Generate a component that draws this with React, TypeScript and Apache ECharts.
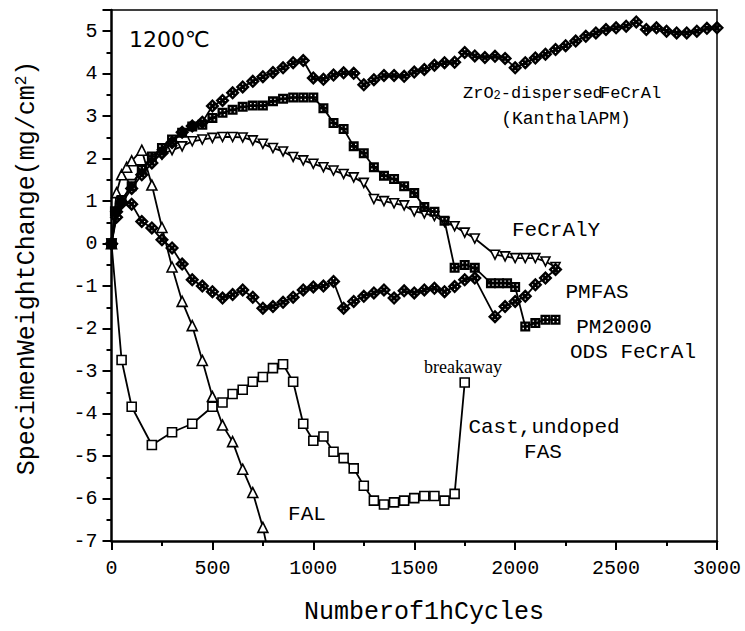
import React, { useEffect, useRef } from "react";
import * as echarts from "echarts";

type P = [number, number];

const xTicks = { min: 0, max: 3000, interval: 500 };
const yTicks = { min: -7, max: 5.5, interval: 1 };

const kanthalAPM: P[] = [
  [0, 0], [25, 0.62], [50, 0.95], [100, 1.3], [150, 1.62], [200, 1.9], [250, 2.13], [300, 2.38], [350, 2.62],
  [400, 2.77], [450, 2.86], [500, 3.24], [550, 3.37], [600, 3.55], [650, 3.69], [700, 3.82], [750, 3.93],
  [800, 4.03], [850, 4.14], [900, 4.26], [950, 4.31], [1000, 3.9], [1050, 3.87], [1100, 3.97], [1150, 4.02],
  [1200, 4.01], [1250, 3.74], [1300, 3.86], [1350, 3.96], [1400, 3.96], [1450, 3.94], [1500, 4.04],
  [1550, 4.1], [1600, 4.2], [1650, 4.26], [1700, 4.27], [1750, 4.5], [1800, 4.42], [1850, 4.38], [1900, 4.41],
  [1950, 4.36], [2000, 4.14], [2050, 4.26], [2100, 4.37], [2150, 4.46], [2200, 4.57], [2250, 4.66],
  [2300, 4.77], [2350, 4.88], [2400, 4.96], [2450, 5.04], [2500, 5.08], [2550, 5.12], [2600, 5.22],
  [2650, 5.04], [2700, 5.08], [2750, 5.0], [2800, 4.96], [2850, 4.96], [2900, 5.0], [2950, 5.07], [3000, 5.08],
];

const pm2000: P[] = [
  [0, 0], [17, 0.76], [50, 1.03], [100, 1.35], [150, 1.74], [200, 2.05], [250, 2.25], [300, 2.45], [350, 2.61],
  [400, 2.76], [450, 2.8], [500, 2.96], [550, 3.08], [600, 3.15], [650, 3.22], [700, 3.25], [750, 3.25],
  [800, 3.35], [850, 3.41], [900, 3.44], [950, 3.44], [1000, 3.44], [1050, 3.19], [1100, 2.84], [1150, 2.7],
  [1200, 2.29], [1250, 2.13], [1300, 1.8], [1350, 1.6], [1400, 1.52], [1450, 1.35], [1500, 1.19], [1550, 0.86],
  [1600, 0.75], [1650, 0.54], [1700, -0.57], [1750, -0.5], [1800, -0.57], [1880, -0.93], [1920, -0.93],
  [1960, -0.93], [2000, -1.02], [2050, -1.95], [2100, -1.87], [2150, -1.79], [2200, -1.79],
];

const fecraly: P[] = [
  [0, 0], [25, 0.7], [50, 1.0], [100, 1.4], [150, 1.75], [200, 1.98], [250, 2.1], [300, 2.2], [350, 2.29],
  [400, 2.41], [450, 2.45], [500, 2.49], [550, 2.51], [600, 2.51], [650, 2.5], [700, 2.43], [750, 2.35],
  [800, 2.25], [850, 2.17], [900, 2.04], [950, 1.96], [1000, 1.88], [1050, 1.8], [1100, 1.72], [1150, 1.64],
  [1200, 1.56], [1250, 1.43], [1300, 1.05], [1350, 1.0], [1400, 0.95], [1450, 0.9], [1500, 0.76], [1550, 0.71],
  [1600, 0.65], [1650, 0.51], [1700, 0.41], [1750, 0.26], [1800, 0.12], [1900, -0.26], [1950, -0.3],
  [2000, -0.34], [2050, -0.34], [2100, -0.34], [2150, -0.42], [2200, -0.55],
];

const pmfas: P[] = [
  [0, 0], [25, 0.75], [50, 0.98], [100, 0.93], [150, 0.52], [200, 0.37], [250, 0.09], [300, -0.1], [350, -0.48],
  [400, -0.85], [450, -1.0], [500, -1.13], [550, -1.28], [600, -1.2], [650, -1.09], [700, -1.26], [750, -1.52],
  [800, -1.48], [850, -1.38], [900, -1.26], [950, -1.09], [1000, -1.02], [1050, -1.0], [1100, -0.89],
  [1150, -1.52], [1200, -1.36], [1250, -1.24], [1300, -1.16], [1350, -1.09], [1400, -1.28], [1450, -1.11],
  [1500, -1.16], [1550, -1.09], [1600, -1.05], [1650, -1.13], [1700, -1.01], [1750, -0.85], [1800, -0.81],
  [1900, -1.72], [1950, -1.48], [2000, -1.36], [2050, -1.24], [2100, -0.97], [2150, -0.81], [2200, -0.61],
];

const castFAS: P[] = [
  [0, 0], [50, -2.74], [100, -3.84], [200, -4.74], [300, -4.44], [400, -4.24], [500, -3.84], [550, -3.74],
  [600, -3.54], [650, -3.44], [700, -3.25], [750, -3.14], [800, -2.93], [850, -2.84], [900, -3.25],
  [950, -4.24], [1000, -4.64], [1050, -4.54], [1100, -4.9], [1150, -5.05], [1200, -5.29], [1250, -5.7],
  [1300, -6.05], [1350, -6.14], [1400, -6.09], [1450, -6.05], [1500, -5.99], [1550, -5.94], [1600, -5.94],
  [1650, -6.05], [1700, -5.89], [1750, -3.27],
];

const fal: P[] = [
  [0, 0], [25, 1.2], [50, 1.62], [75, 1.8], [100, 1.95], [150, 2.2], [200, 1.38], [250, 0.38], [300, -0.55],
  [350, -1.36], [400, -1.93], [450, -2.75], [500, -3.6], [550, -4.27], [600, -4.66], [650, -5.31],
  [700, -5.86], [750, -6.68], [800, -7.8],
];

const MONO = "'Liberation Mono', 'Courier New', monospace";

const DIAMOND =
  "path://M0,-6L6,0L0,6L-6,0Z" +
  "M-0.5,-2.9L-0.5,-1.9L0.5,-1.9L0.5,-2.9Z" +
  "M1.9,-0.5L1.9,0.5L2.9,0.5L2.9,-0.5Z" +
  "M-0.5,1.9L-0.5,2.9L0.5,2.9L0.5,1.9Z" +
  "M-2.9,-0.5L-2.9,0.5L-1.9,0.5L-1.9,-0.5Z";

const BOXCROSS =
  "path://M-5,-5L5,-5L5,5L-5,5Z" +
  "M-2.7,-2.7L-2.7,-1.3L-1.3,-1.3L-1.3,-2.7Z" +
  "M1.3,-2.7L1.3,-1.3L2.7,-1.3L2.7,-2.7Z" +
  "M-2.7,1.3L-2.7,2.7L-1.3,2.7L-1.3,1.3Z" +
  "M1.3,1.3L1.3,2.7L2.7,2.7L2.7,1.3Z";

function mkSeries(name: string, data: P[], symbol: string, size: number, filled: boolean, rotate = 0) {
  return {
    name,
    type: "line",
    data,
    symbol,
    symbolSize: size,
    symbolRotate: rotate,
    symbolKeepAspect: true,
    showAllSymbol: true,
    clip: true,
    lineStyle: { color: "#000", width: 1.8 },
    itemStyle: filled
      ? { color: "#000", borderWidth: 0 }
      : { color: "#fff", borderColor: "#000", borderWidth: 1.6 },
    emphasis: { disabled: true },
  };
}

function txt(text: string, x: number, y: number, size: number, align = "left", family = MONO, extra: any = {}) {
  return {
    type: "text",
    x,
    y,
    z: 100,
    silent: true,
    style: { text, fontSize: size, fontFamily: family, fill: "#000", align, verticalAlign: "middle", ...extra },
  };
}

export default function App() {
  const ref = useRef<HTMLDivElement>(null);
  useEffect(() => {
    if (!ref.current) return;
    const chart = echarts.init(ref.current, undefined, { renderer: "svg" });
    const axisLine = { show: true, onZero: false, lineStyle: { color: "#000", width: 2.5 } };
    chart.setOption({
      animation: false,
      backgroundColor: "#fff",
      grid: { left: 111.5, right: 28, top: 10, bottom: 90, containLabel: false },
      xAxis: [
        {
          type: "value",
          ...xTicks,
          axisLine,
          axisTick: { show: true, inside: false, length: 9, lineStyle: { color: "#000", width: 2 } },
          minorTick: { show: true, splitNumber: 2, length: 5, lineStyle: { color: "#000", width: 2 } },
          axisLabel: { color: "#000", fontFamily: MONO, fontSize: 20, margin: 17, formatter: (v: number) => String(v) },
          splitLine: { show: false },
        },
        {
          type: "value",
          position: "top",
          ...xTicks,
          axisLine: { show: true, onZero: false, lineStyle: { color: "#000", width: 1.5 } },
          axisTick: { show: false },
          axisLabel: { show: false },
          splitLine: { show: false },
        },
      ],
      yAxis: [
        {
          type: "value",
          ...yTicks,
          axisLine,
          axisTick: { show: true, inside: false, length: 9, lineStyle: { color: "#000", width: 2 } },
          minorTick: { show: true, splitNumber: 2, length: 5, lineStyle: { color: "#000", width: 2 } },
          axisLabel: {
            color: "#000",
            fontFamily: MONO,
            fontSize: 20,
            margin: 14,
            formatter: (v: number) => (Number.isInteger(v) ? String(v) : ""),
          },
          splitLine: { show: false },
        },
        {
          type: "value",
          position: "right",
          ...yTicks,
          axisLine: { show: true, onZero: false, lineStyle: { color: "#000", width: 1.5 } },
          axisTick: { show: false },
          axisLabel: { show: false },
          splitLine: { show: false },
        },
      ],
      series: [
        mkSeries("Cast undoped FAS", castFAS, "rect", 9, false),
        mkSeries("FAL", fal, "triangle", 10, false),
        mkSeries("FeCrAlY", fecraly, "triangle", 9, false, 180),
        mkSeries("PM2000 ODS FeCrAl", pm2000, BOXCROSS, 10, true),
        mkSeries("PMFAS", pmfas, DIAMOND, 14, true),
        mkSeries("ZrO2-dispersed FeCrAl (Kanthal APM)", kanthalAPM, DIAMOND, 14, true),
      ],
      graphic: [
        txt("1200℃", 129, 39, 22, "left", "'DejaVu Sans', sans-serif"),
        {
          type: "text",
          x: 463,
          y: 93,
          z: 100,
          silent: true,
          style: {
            text: "{n|ZrO}{sub|2}{n|-dispersed}",
            fill: "#000",
            align: "left",
            verticalAlign: "middle",
            rich: {
              n: { fontSize: 17, fontFamily: MONO, lineHeight: 17, verticalAlign: "top", fill: "#000" },
              sub: { fontSize: 12, fontFamily: MONO, lineHeight: 12, verticalAlign: "bottom", padding: [9, 0, 0, 0], fill: "#000" },
            },
          },
        },
        txt("FeCrAl", 600, 93, 17),
        txt("(KanthalAPM)", 566, 119, 18, "center"),
        txt("FeCrAlY", 512, 230, 21),
        txt("PMFAS", 597, 292, 21, "center"),
        txt("PM2000", 614, 327, 21, "center"),
        txt("ODS FeCrAl", 633, 352, 21, "center"),
        txt("breakaway", 463, 367, 18, "center", "'Liberation Serif', 'Times New Roman', serif"),
        txt("Cast,undoped", 544, 427, 21, "center"),
        txt("FAS", 543, 452, 21, "center"),
        txt("FAL", 307, 514, 21, "center"),
        txt("Numberof1hCycles", 424, 612, 25, "center"),
        {
          type: "text",
          x: 27,
          y: 268,
          rotation: Math.PI / 2,
          z: 100,
          silent: true,
          style: {
            text: "{n|SpecimenWeightChange(mg/cm}{sup|2}{n|)}",
            fill: "#000",
            align: "center",
            verticalAlign: "middle",
            rich: {
              n: { fontSize: 25, fontFamily: MONO, lineHeight: 26, verticalAlign: "bottom", fill: "#000" },
              sup: { fontSize: 16, fontFamily: MONO, lineHeight: 16, verticalAlign: "top", fill: "#000" },
            },
          },
        },
      ],
    });
    return () => chart.dispose();
  }, []);
  return (
    <div
      ref={ref}
      style={{ position: "fixed", left: 0, top: 0, width: 745, height: 631, background: "#fff" }}
    />
  );
}
